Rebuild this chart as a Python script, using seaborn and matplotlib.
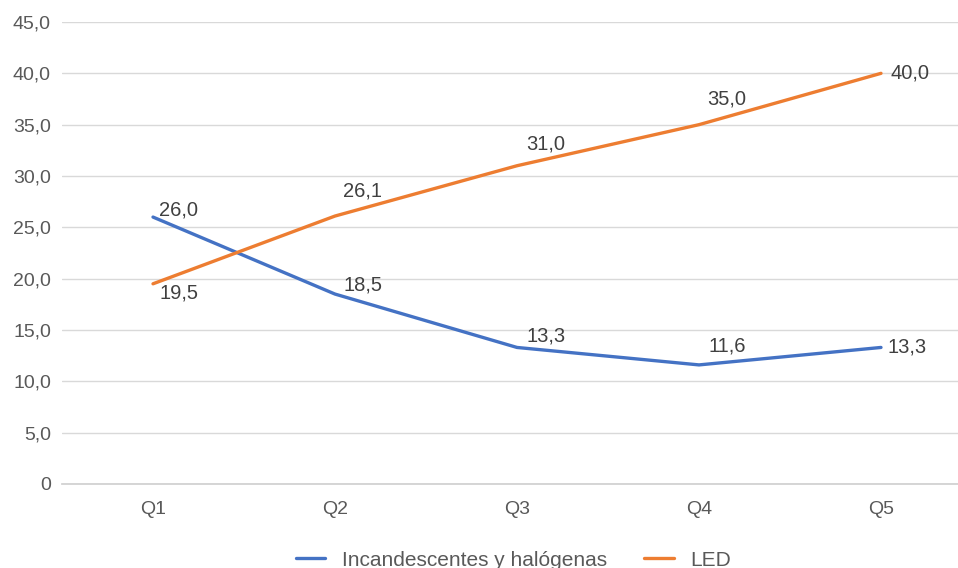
import pandas as pd
import matplotlib
matplotlib.use('Agg')
import matplotlib.pyplot as plt
import seaborn as sns

# Datos del gráfico
quintiles = ['Q1', 'Q2', 'Q3', 'Q4', 'Q5']
incandescentes = [26.0, 18.5, 13.3, 11.6, 13.3]
led = [19.5, 26.1, 31.0, 35.0, 40.0]
serie_inc = 'Incandescentes y halógenas'
serie_led = 'LED'

sns.set_theme(style='white')
plt.rcParams['font.family'] = ['Liberation Sans', 'DejaVu Sans']

df = pd.DataFrame({'quintil': quintiles * 2,
                   'valor': incandescentes + led,
                   'serie': [serie_inc] * 5 + [serie_led] * 5})

fig = plt.figure(figsize=(9.58, 5.68), dpi=100)
ax = fig.add_axes([62 / 958, 84 / 568, 910 / 958, 462 / 568])

colores = {serie_inc: '#4472C4', serie_led: '#ED7D31'}
sns.lineplot(data=df, x='quintil', y='valor', hue='serie', palette=colores,
             linewidth=2.4, ax=ax, legend=True, sort=False)

ax.set_xlim(-0.5, 4.5)
ax.set_ylim(0, 45)
ax.set_yticks(range(0, 50, 5))
ax.set_yticklabels(['0'] + [f'{v:.1f}'.replace('.', ',') for v in range(5, 50, 5)])
ax.yaxis.grid(True, color='#d9d9d9', linewidth=1)
ax.set_axisbelow(True)
for s in ['top', 'right', 'left']:
    ax.spines[s].set_visible(False)
ax.spines['bottom'].set_color('#d0d0d0')
ax.tick_params(axis='both', colors='#595959', labelsize=14, length=0)
ax.tick_params(axis='y', pad=8)
ax.tick_params(axis='x', pad=12)
ax.set_xlabel('')
ax.set_ylabel('')

# Etiquetas de datos (desplazamientos en píxeles)
off_inc = [(26, 7), (28, 9), (29, 11), (28, 19), (26, 0)]
off_led = [(26, -9), (28, 25), (29, 22), (28, 26), (29, 0)]
for i, q in enumerate(quintiles):
    for vals, offs in ((incandescentes, off_inc), (led, off_led)):
        ax.annotate(f'{vals[i]:.1f}'.replace('.', ','), (i, vals[i]),
                    xytext=offs[i], textcoords='offset pixels',
                    ha='center', va='center', fontsize=14.5, color='#404040')

handles, labels = ax.get_legend_handles_labels()
ax.legend_.remove()
fig.legend(handles, labels, loc='center', bbox_to_anchor=(0.536, 0.014),
           ncol=2, frameon=False, fontsize=15, labelcolor='#595959',
           handlelength=1.4, columnspacing=1.8, handletextpad=0.8)

fig.savefig('out.png', dpi=100)
